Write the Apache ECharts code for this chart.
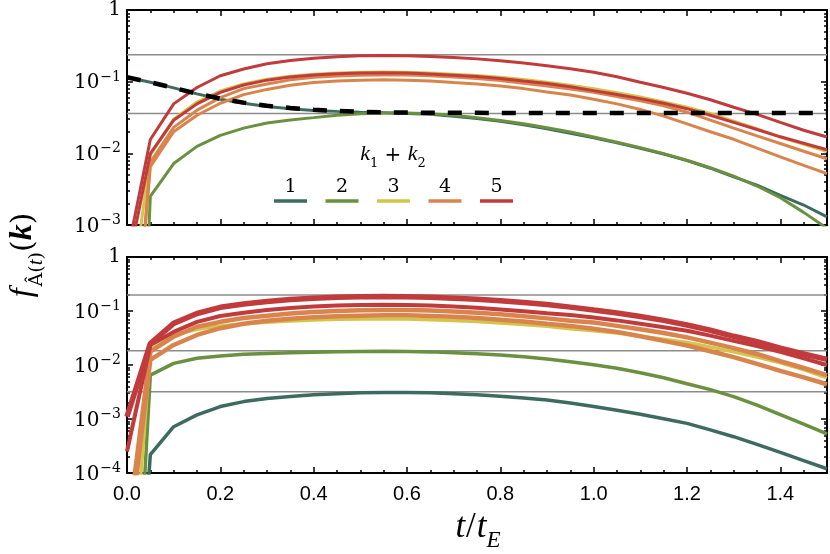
<!DOCTYPE html>
<html>
<head>
<meta charset="utf-8">
<script src="https://cdn.jsdelivr.net/npm/echarts@6/dist/echarts.min.js"></script>
<style>
html, body { margin: 0; padding: 0; background: #fff; }
#main { width: 830px; height: 554px; }
</style>
</head>
<body>
<div id="main"></div>
<script>
// time grid t/t_E
var tValues = [0, 0.05, 0.1, 0.15, 0.2, 0.25, 0.3, 0.35, 0.4, 0.45, 0.5, 0.55, 0.6, 0.65, 0.7, 0.75,
  0.8, 0.85, 0.9, 0.95, 1.0, 1.05, 1.1, 1.15, 1.2, 1.25, 1.3, 1.35, 1.4, 1.45, 1.5]
var tRange = [0, 1.5]

// upper panel
var topTeal = [0.115, 0.098, 0.082, 0.0675, 0.057, 0.050, 0.045, 0.042, 0.0396, 0.0385, 0.0375, 0.0368, 0.036, 0.0352, 0.033, 0.0305,
  0.028, 0.025, 0.022, 0.019, 0.0165, 0.014, 0.0118, 0.0098, 0.0079, 0.0062, 0.0047, 0.0036, 0.0026, 0.0019, 0.0013]
var topGreen = [1e-10, 0.0025, 0.0072, 0.0125, 0.0178, 0.0225, 0.0265, 0.0292, 0.0315, 0.034, 0.0358, 0.0365, 0.0365, 0.0358, 0.034, 0.0315,
  0.0288, 0.0258, 0.0228, 0.0198, 0.0169, 0.0143, 0.0120, 0.0099, 0.0080, 0.0063, 0.0048, 0.0035, 0.0024, 0.0015, 0.0009]
var topYellow = [3.4e-5, 0.0095, 0.030, 0.052, 0.074, 0.093, 0.108, 0.119, 0.127, 0.132, 0.135, 0.136, 0.135, 0.132, 0.127, 0.122,
  0.115, 0.107, 0.098, 0.089, 0.080, 0.070, 0.061, 0.052, 0.044, 0.036, 0.028, 0.022, 0.0168, 0.0134, 0.0106]
var topOrangeA = [1e-6, 0.0075, 0.023, 0.040, 0.060, 0.080, 0.093, 0.106, 0.115, 0.120, 0.123, 0.124, 0.124, 0.121, 0.116, 0.111,
  0.104, 0.095, 0.087, 0.079, 0.071, 0.062, 0.054, 0.046, 0.0375, 0.029, 0.0225, 0.0175, 0.0137, 0.0107, 0.0084]
var topOrangeB = [1e-6, 0.0065, 0.020, 0.034, 0.050, 0.066, 0.078, 0.089, 0.097, 0.102, 0.105, 0.106, 0.105, 0.102, 0.097, 0.093,
  0.087, 0.080, 0.072, 0.065, 0.057, 0.049, 0.041, 0.033, 0.0258, 0.020, 0.0157, 0.0118, 0.0089, 0.0068, 0.0052]
var topRedA = [3.8e-4, 0.0156, 0.049, 0.083, 0.121, 0.150, 0.178, 0.198, 0.213, 0.223, 0.230, 0.232, 0.230, 0.225, 0.218, 0.208,
  0.196, 0.182, 0.167, 0.151, 0.135, 0.117, 0.098, 0.083, 0.069, 0.056, 0.044, 0.035, 0.027, 0.021, 0.0169]
var topRedB = [2.4e-4, 0.0099, 0.029, 0.049, 0.071, 0.090, 0.105, 0.116, 0.124, 0.129, 0.132, 0.133, 0.132, 0.128, 0.123, 0.118,
  0.111, 0.102, 0.094, 0.085, 0.075, 0.066, 0.058, 0.050, 0.042, 0.034, 0.027, 0.0215, 0.017, 0.0138, 0.0112]
var topDashed = [0.115, 0.098, 0.082, 0.068, 0.058, 0.051, 0.046, 0.043, 0.0405, 0.039, 0.038, 0.0375, 0.037, 0.0368, 0.0367, 0.0367,
  0.0366, 0.0366, 0.0366, 0.0366, 0.0366, 0.0366, 0.0366, 0.0366, 0.0366, 0.0366, 0.0366, 0.0366, 0.0366, 0.0366, 0.0366]
var topRefLevels = [0.237, 0.036]

// lower panel
var botTeal = [1e-10, 2.2e-4, 7.2e-4, 0.00119, 0.0017, 0.0021, 0.0024, 0.00262, 0.0028, 0.00295, 0.00305, 0.0031, 0.0031, 0.00305, 0.00295, 0.00282,
  0.00265, 0.00245, 0.00224, 0.00197, 0.0017, 0.00145, 0.00122, 0.00101, 0.00083, 0.00063, 0.00047, 0.00034, 0.00024, 0.00017, 0.00012]
var botGreen = [1e-10, 0.0065, 0.0107, 0.0133, 0.0147, 0.0158, 0.0163, 0.0168, 0.0173, 0.0176, 0.0178, 0.0179, 0.0178, 0.0175, 0.0169, 0.0162,
  0.0153, 0.0142, 0.0129, 0.0115, 0.0101, 0.0087, 0.0072, 0.0058, 0.0045, 0.0035, 0.0026, 0.0018, 0.0012, 0.0008, 0.00053]
var botYellow = [4e-8, 0.019, 0.036, 0.046, 0.053, 0.058, 0.062, 0.065, 0.068, 0.070, 0.071, 0.071, 0.071, 0.069, 0.067, 0.064,
  0.060, 0.056, 0.052, 0.047, 0.043, 0.039, 0.034, 0.030, 0.026, 0.0215, 0.0175, 0.014, 0.011, 0.0082, 0.0058]
var botOrangeA = [7e-6, 0.0177, 0.0335, 0.051, 0.063, 0.074, 0.082, 0.090, 0.096, 0.100, 0.103, 0.104, 0.104, 0.102, 0.098, 0.093,
  0.087, 0.080, 0.073, 0.066, 0.061, 0.053, 0.046, 0.039, 0.0325, 0.026, 0.0205, 0.016, 0.0118, 0.0088, 0.0065]
var botOrangeB = [3e-6, 0.0124, 0.0235, 0.036, 0.048, 0.058, 0.066, 0.072, 0.077, 0.080, 0.082, 0.083, 0.083, 0.081, 0.078, 0.074,
  0.069, 0.064, 0.058, 0.053, 0.047, 0.041, 0.034, 0.028, 0.023, 0.018, 0.014, 0.0105, 0.0078, 0.0059, 0.0044]
var botRedA = [0.0011, 0.025, 0.059, 0.090, 0.117, 0.135, 0.150, 0.163, 0.173, 0.180, 0.184, 0.185, 0.184, 0.180, 0.173, 0.165,
  0.155, 0.144, 0.132, 0.118, 0.104, 0.092, 0.079, 0.067, 0.055, 0.044, 0.034, 0.027, 0.0205, 0.016, 0.0127]
var botRedB = [2.5e-4, 0.0235, 0.041, 0.063, 0.081, 0.093, 0.104, 0.114, 0.121, 0.126, 0.129, 0.130, 0.129, 0.126, 0.121, 0.115,
  0.107, 0.099, 0.091, 0.084, 0.076, 0.067, 0.058, 0.050, 0.043, 0.035, 0.028, 0.0225, 0.0175, 0.0133, 0.0100]
var botRefLevels = [0.198, 0.0184, 0.00318]

// k1 + k2 groups
var groupLabels = ['1', '2', '3', '4', '5']
var groupColors = ['#3e6b5f', '#6a913f', '#d3c54a', '#d9844d', '#c23b3c']
var logMinorMantissas = [2, 3, 4, 5, 6, 7, 8, 9]

var serif = 'DejaVu Serif'
var mathFont = 'Liberation Serif'

function minorLogTicks (min) {
  var out = []
  for (var e = Math.round(Math.log10(min)); e < 0; e++) {
    logMinorMantissas.forEach(function (m) { out.push(m * Math.pow(10, e)) })
  }
  return out
}

function xAxisDef (grid, pos, interval, len, labels) {
  return {
    type: 'value',
    gridIndex: grid,
    position: pos,
    min: 0,
    max: 1.5,
    interval: interval,
    axisLine: { show: len > 4, onZero: false, lineStyle: { color: '#000', width: 2 } },
    axisTick: { show: true, inside: true, length: len, lineStyle: { color: '#000', width: 1.5 } },
    axisLabel: labels ? {
      show: true,
      margin: 11,
      color: '#000',
      fontFamily: 'Liberation Sans',
      fontSize: 20,
      showMaxLabel: false,
      formatter: function (v) { return v.toFixed(1) }
    } : { show: false },
    splitLine: { show: false }
  }
}

function yAxisDef (grid, pos, min, minor) {
  var def = {
    type: 'log',
    logBase: 10,
    gridIndex: grid,
    position: pos,
    min: min,
    max: 1,
    axisLine: { show: !minor, onZero: false, lineStyle: { color: '#000', width: 2 } },
    axisTick: { show: true, inside: true, length: minor ? 3 : 6, lineStyle: { color: '#000', width: 1.5 } },
    axisLabel: { show: false },
    splitLine: { show: false }
  }
  if (minor) def.axisTick.customValues = minorLogTicks(min)
  if (!minor && pos === 'left') {
    def.axisLabel = {
      show: true,
      margin: 6,
      formatter: function (v) {
        var e = Math.round(Math.log10(v))
        return e === 0 ? '{b|1}' : '{b|10}{e|\u2212' + (-e) + '}'
      },
      rich: {
        b: { fontFamily: serif, fontSize: 20, color: '#000', verticalAlign: 'bottom' },
        e: { fontFamily: serif, fontSize: 14, color: '#000', verticalAlign: 'bottom', padding: [0, 0, 9, 1] }
      }
    }
  }
  return def
}

var panels = [
  { top: 9, height: 216, min: 1e-3, labels: false },
  { top: 257, height: 216, min: 1e-4, labels: true }
]

var grids = []
var xAxes = []
var yAxes = []
panels.forEach(function (p, g) {
  grids.push({ left: 127, width: 700, top: p.top, height: p.height, containLabel: false })
  xAxes.push(xAxisDef(g, 'bottom', 0.2, 6, p.labels))
  xAxes.push(xAxisDef(g, 'bottom', 0.05, 3, false))
  xAxes.push(xAxisDef(g, 'top', 0.2, 6, false))
  xAxes.push(xAxisDef(g, 'top', 0.05, 3, false))
  yAxes.push(yAxisDef(g, 'left', p.min, false))
  yAxes.push(yAxisDef(g, 'left', p.min, true))
  yAxes.push(yAxisDef(g, 'right', p.min, false))
  yAxes.push(yAxisDef(g, 'right', p.min, true))
})

function lineSeries (grid, data, color, width, z, dash) {
  return {
    type: 'line',
    xAxisIndex: grid * 4,
    yAxisIndex: grid * 4,
    data: data,
    showSymbol: false,
    symbol: 'none',
    silent: true,
    z: z,
    lineStyle: { color: color, width: width, type: dash || 'solid', cap: 'butt' }
  }
}

function curve (grid, values, color, width, z, dash) {
  var data = tValues.map(function (t, i) { return [t, values[i]] })
  return lineSeries(grid, data, color, width, z, dash)
}

// horizontal reference levels across the whole time range
function refLines (grid, levels) {
  return levels.map(function (v) {
    return lineSeries(grid, tRange.map(function (t) { return [t, v] }), '#8c8c8c', 1.5, 1)
  })
}

var series = [].concat(
  refLines(0, topRefLevels),
  [
    curve(0, topTeal, groupColors[0], 3, 2),
    curve(0, topGreen, groupColors[1], 3, 3),
    curve(0, topYellow, groupColors[2], 3, 4),
    curve(0, topOrangeA, groupColors[3], 3, 5),
    curve(0, topOrangeB, groupColors[3], 3, 5),
    curve(0, topRedB, groupColors[4], 3, 6),
    curve(0, topRedA, groupColors[4], 3, 6),
    curve(0, topDashed, '#000', 4.5, 8, [14, 13])
  ],
  refLines(1, botRefLevels),
  [
    curve(1, botTeal, groupColors[0], 3.5, 2),
    curve(1, botGreen, groupColors[1], 3.5, 3),
    curve(1, botYellow, groupColors[2], 3.5, 4),
    curve(1, botOrangeB, groupColors[3], 4.5, 5),
    curve(1, botOrangeA, groupColors[3], 4.5, 5),
    curve(1, botRedB, groupColors[4], 4, 6),
    curve(1, botRedA, groupColors[4], 5.5, 6)
  ]
)

// legend block: title above, number over a short coloured bar
var graphics = [{
  type: 'text',
  x: 393,
  y: 157,
  style: {
    text: '{i|k}{s|1}{n| + }{i|k}{s|2}',
    align: 'center',
    verticalAlign: 'middle',
    rich: {
      i: { fontFamily: mathFont, fontStyle: 'italic', fontSize: 22, color: '#000', verticalAlign: 'bottom', padding: [0, 0, 5, 0] },
      s: { fontFamily: serif, fontSize: 13, color: '#000', verticalAlign: 'bottom' },
      n: { fontFamily: serif, fontSize: 20, color: '#000', verticalAlign: 'bottom', padding: [0, 0, 5, 0] }
    }
  }
}]
groupLabels.forEach(function (lab, i) {
  var x0 = 274 + i * 51.5
  graphics.push({
    type: 'line',
    shape: { x1: x0, y1: 201, x2: x0 + 33, y2: 201 },
    style: { stroke: groupColors[i], lineWidth: 3.5 }
  })
  graphics.push({
    type: 'text',
    x: x0 + 16.5,
    y: 187,
    style: { text: lab, fontFamily: serif, fontSize: 19, fill: '#000', align: 'center', verticalAlign: 'middle' }
  })
})
// axis titles
graphics.push({
  type: 'text',
  x: 478,
  y: 531,
  style: {
    text: '{i|t}{n|/}{i|t}{s|E}',
    align: 'center',
    verticalAlign: 'middle',
    rich: {
      i: { fontFamily: mathFont, fontStyle: 'italic', fontSize: 35, color: '#000', verticalAlign: 'bottom', padding: [0, 0, 7, 0] },
      n: { fontFamily: mathFont, fontSize: 35, color: '#000', verticalAlign: 'bottom', padding: [0, 1, 7, 1] },
      s: { fontFamily: mathFont, fontStyle: 'italic', fontSize: 23, color: '#000', verticalAlign: 'bottom' }
    }
  }
})
graphics.push({
  type: 'text',
  x: 27,
  y: 255,
  rotation: Math.PI / 2,
  style: {
    text: '{f|f}{a|\u00c2}{p|(}{t|t}{p|)}{q|(}{k|k}{q|)}',
    align: 'center',
    verticalAlign: 'middle',
    rich: {
      f: { fontFamily: mathFont, fontStyle: 'italic', fontSize: 32, color: '#000', verticalAlign: 'bottom', padding: [0, 2, 8, 0] },
      a: { fontFamily: serif, fontSize: 19, color: '#000', verticalAlign: 'bottom' },
      p: { fontFamily: serif, fontSize: 19, color: '#000', verticalAlign: 'bottom' },
      t: { fontFamily: mathFont, fontStyle: 'italic', fontSize: 21, color: '#000', verticalAlign: 'bottom' },
      q: { fontFamily: serif, fontSize: 30, color: '#000', verticalAlign: 'bottom', padding: [0, 0, 8, 0] },
      k: { fontFamily: mathFont, fontStyle: 'italic', fontWeight: 'bold', fontSize: 32, color: '#000', verticalAlign: 'bottom', padding: [0, 0, 8, 0] }
    }
  }
})

var myChart = echarts.init(document.getElementById('main'))
myChart.setOption({
  backgroundColor: '#fff',
  animation: false,
  grid: grids,
  xAxis: xAxes,
  yAxis: yAxes,
  series: series,
  graphic: graphics
})
</script>
</body>
</html>
